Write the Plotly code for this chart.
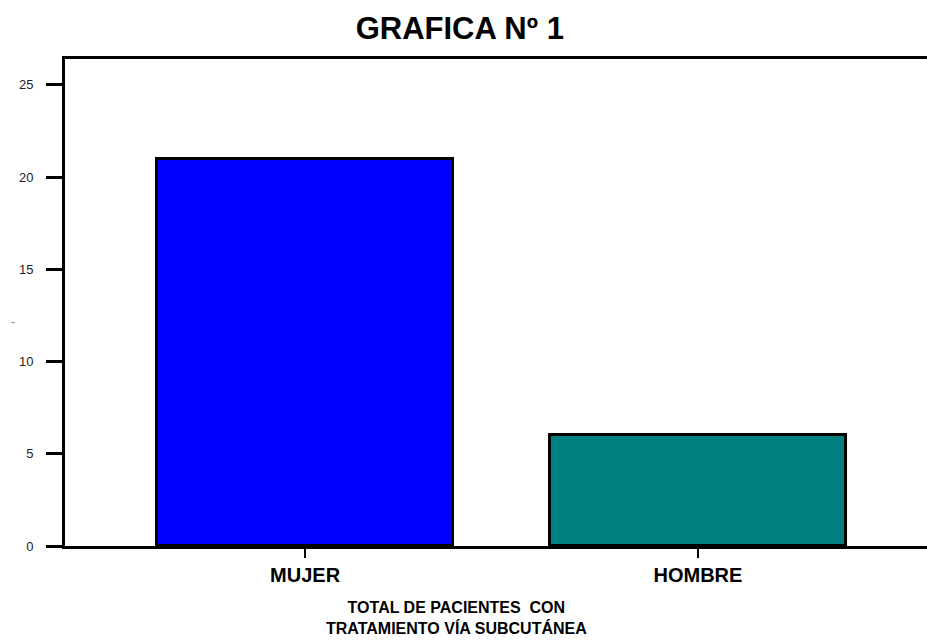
import plotly.graph_objects as go

categories = ["MUJER", "HOMBRE"]
values = [21, 6]
bar_colors = ["#0000FF", "#008080"]
y_ticks = [0, 5, 10, 15, 20, 25]

FONT = "Liberation Sans, Arial, sans-serif"

fig = go.Figure()
fig.add_trace(go.Bar(
    x=categories,
    y=values,
    width=0.753,
    marker=dict(color=bar_colors, line=dict(color="#000000", width=3)),
    showlegend=False,
    hoverinfo="skip",
))

fig.update_layout(
    width=927,
    height=644,
    margin=dict(l=65, r=0, t=59, b=98),
    paper_bgcolor="white",
    plot_bgcolor="white",
    font=dict(family=FONT, color="#000000"),
    title=dict(
        text="<b>GRAFICA Nº 1</b>",
        x=0.458, xref="paper", xanchor="center",
        y=1 - 28 / 644, yref="container", yanchor="middle",
        font=dict(size=31, family=FONT, color="#000000"),
    ),
    bargap=0,
)

fig.update_xaxes(
    range=[-0.611, 1.583],
    showline=True, linecolor="#000000", linewidth=3, mirror=True,
    ticks="outside", ticklen=9, tickwidth=2, tickcolor="#000000",
    tickfont=dict(size=20, family=FONT, color="#000000"),
    tickprefix="<b>", ticksuffix="</b>",
    showgrid=False, zeroline=False,
)
fig.update_yaxes(
    range=[0, 26.4],
    tickvals=y_ticks,
    showline=True, linecolor="#000000", linewidth=3, mirror=False,
    ticks="outside", ticklen=16, tickwidth=3, tickcolor="#000000",
    tickfont=dict(size=13, family=FONT, color="#222222"),
    ticklabelstandoff=10,
    showgrid=False, zeroline=False,
)

fig.add_annotation(
    text="<b>TOTAL DE PACIENTES  CON<br>TRATAMIENTO VÍA SUBCUTÁNEA</b>",
    xref="paper", yref="paper",
    x=(456 - 65) / 862, y=(546 - 618) / 487,
    xanchor="center", yanchor="middle",
    showarrow=False,
    font=dict(size=16, family=FONT, color="#000000"),
)
fig.add_annotation(
    text="-",
    xref="paper", yref="paper",
    x=(13 - 65) / 862, y=(546 - 322) / 487,
    xanchor="center", yanchor="middle",
    showarrow=False,
    font=dict(size=12, family=FONT, color="#888888"),
)

fig.write_html(
    "out.html",
    config={"displayModeBar": False},
    post_script="document.body.style.margin='0';document.body.style.overflow='hidden';",
)
